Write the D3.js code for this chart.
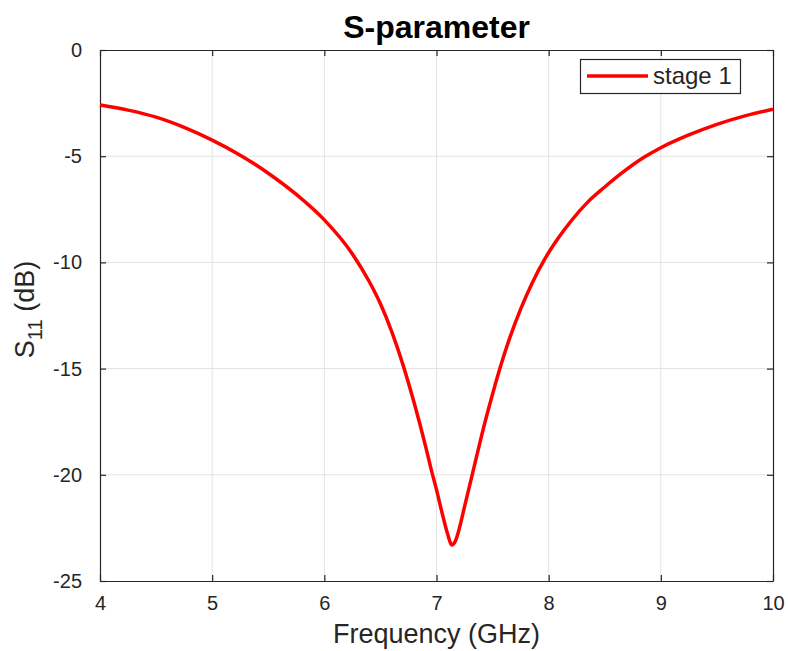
<!DOCTYPE html>
<html>
<head>
<meta charset="utf-8">
<script src="https://cdn.jsdelivr.net/npm/d3@7"></script>
<style>
	body { margin: 0; background: #fff; }
	svg text { font-family: "Liberation Sans", Arial, Helvetica, sans-serif; fill: #262626; }
</style>
</head>
<body>
<div id="chart"></div>
<script>
var freq = [4.0, 4.25, 4.5, 4.75, 5.0, 5.25, 5.5, 5.75, 6.0, 6.25, 6.4, 6.5, 6.6, 6.7, 6.8, 6.9, 6.96, 7.0, 7.05, 7.1, 7.135, 7.17, 7.2, 7.25, 7.3, 7.35, 7.4, 7.5, 7.565, 7.65, 7.75, 7.85, 7.97, 8.1, 8.2, 8.35, 8.5, 8.65, 8.85, 9.0, 9.25, 9.5, 9.75, 10.0];
var s11 = [-2.59, -2.83, -3.16, -3.64, -4.24, -4.95, -5.8, -6.8, -8.0, -9.6, -10.9, -11.95, -13.25, -14.8, -16.6, -18.6, -19.9, -20.7, -21.8, -22.8, -23.3, -23.1, -22.6, -21.5, -20.4, -19.3, -18.2, -16.2, -15.0, -13.6, -12.2, -11.0, -9.8, -8.75, -8.05, -7.15, -6.45, -5.8, -5.05, -4.6, -4.0, -3.5, -3.1, -2.79];
var xTicks = [4, 5, 6, 7, 8, 9, 10];
var yTicks = [0, -5, -10, -15, -20, -25];
var seriesName = "stage 1";

var W = 788, H = 651;
var margin = {left: 100, right: 15, top: 50, bottom: 70};
var width = W - margin.left - margin.right,
	height = H - margin.top - margin.bottom;
var axisColor = "#262626", gridColor = "#e3e3e3", tickLen = 6;

var xScale = d3.scaleLinear()
	.domain([4, 10])
	.range([0, width])
;
var yScale = d3.scaleLinear()
	.domain([-25, 0])
	.range([height, 0])
;

var svg = d3.select("#chart")
	.append("svg")
	.attr("width", W)
	.attr("height", H)
;

var plot = svg
	.append("g")
	.attr("transform", "translate(" + margin.left + "," + margin.top + ")")
;

/*
	Grid
*/
plot.selectAll("line.vgrid")
	.data(xTicks.slice(1, -1))
	.enter()
	.append("line")
	.attr("class", "vgrid")
	.attr("x1", function(d) { return xScale(d); })
	.attr("x2", function(d) { return xScale(d); })
	.attr("y1", 0)
	.attr("y2", height)
	.attr("stroke", gridColor)
	.attr("stroke-width", 1)
;
plot.selectAll("line.hgrid")
	.data(yTicks.slice(1, -1))
	.enter()
	.append("line")
	.attr("class", "hgrid")
	.attr("x1", 0)
	.attr("x2", width)
	.attr("y1", function(d) { return yScale(d); })
	.attr("y2", function(d) { return yScale(d); })
	.attr("stroke", gridColor)
	.attr("stroke-width", 1)
;

/*
	Axes: inward ticks, on all four sides
*/
var plain = function(d) { return String(d); };
var xBottom = plot.append("g")
	.attr("transform", "translate(0," + height + ")")
	.call(d3.axisBottom(xScale).tickValues(xTicks).tickFormat(plain).tickSizeInner(-tickLen).tickSizeOuter(0).tickPadding(tickLen + 9));
var xTop = plot.append("g")
	.call(d3.axisTop(xScale).tickValues(xTicks).tickSizeInner(-tickLen).tickSizeOuter(0).tickFormat(""));
var yLeft = plot.append("g")
	.call(d3.axisLeft(yScale).tickValues(yTicks).tickFormat(plain).tickSizeInner(-tickLen).tickSizeOuter(0).tickPadding(tickLen + 12));
var yRight = plot.append("g")
	.attr("transform", "translate(" + width + ",0)")
	.call(d3.axisRight(yScale).tickValues(yTicks).tickSizeInner(-tickLen).tickSizeOuter(0).tickFormat(""));

[xBottom, xTop, yLeft, yRight].forEach(function(g) {
	g.select(".domain").attr("stroke", axisColor).attr("stroke-width", 1.2);
	g.selectAll(".tick line").attr("stroke", axisColor).attr("stroke-width", 1.2);
	g.selectAll(".tick text")
		.attr("fill", axisColor)
		.style("font-size", "20px")
		.style("font-family", "'Liberation Sans', Arial, sans-serif");
});

/*
	Curve
*/
var line = d3.line()
	.x(function(d, i) { return xScale(freq[i]); })
	.y(function(d) { return yScale(d); })
	.curve(d3.curveMonotoneX)
;

plot.append("path")
	.datum(s11)
	.attr("d", line)
	.attr("fill", "none")
	.attr("stroke", "#ff0000")
	.attr("stroke-width", 3.5)
	.attr("stroke-linejoin", "round")
;

/*
	Legend
*/
var legend = svg.append("g");
legend.append("rect")
	.attr("x", 580.5)
	.attr("y", 59.5)
	.attr("width", 160)
	.attr("height", 34)
	.attr("fill", "#fff")
	.attr("stroke", axisColor)
	.attr("stroke-width", 1.2)
;
legend.append("line")
	.attr("x1", 587)
	.attr("x2", 648)
	.attr("y1", 76)
	.attr("y2", 76)
	.attr("stroke", "#ff0000")
	.attr("stroke-width", 3.5)
;
legend.append("text")
	.attr("x", 653)
	.attr("y", 84)
	.style("font-size", "24px")
	.text(seriesName)
;

/*
	Title and labels
*/
svg.append("text")
	.attr("x", margin.left + width / 2)
	.attr("y", 38)
	.attr("text-anchor", "middle")
	.style("font-size", "32px")
	.style("font-weight", "bold")
	.style("fill", "#000")
	.text("S-parameter")
;

svg.append("text")
	.attr("x", margin.left + width / 2)
	.attr("y", 643)
	.attr("text-anchor", "middle")
	.style("font-size", "27px")
	.text("Frequency (GHz)")
;

var yLabel = svg.append("text")
	.attr("transform", "translate(34," + (margin.top + height / 2 - 6) + ") rotate(-90)")
	.attr("text-anchor", "middle")
	.style("font-size", "27px")
;
yLabel.append("tspan").text("S");
yLabel.append("tspan").attr("dy", 8).style("font-size", "20px").text("11");
yLabel.append("tspan").attr("dy", -8).text(" (dB)");
</script>
</body>
</html>
